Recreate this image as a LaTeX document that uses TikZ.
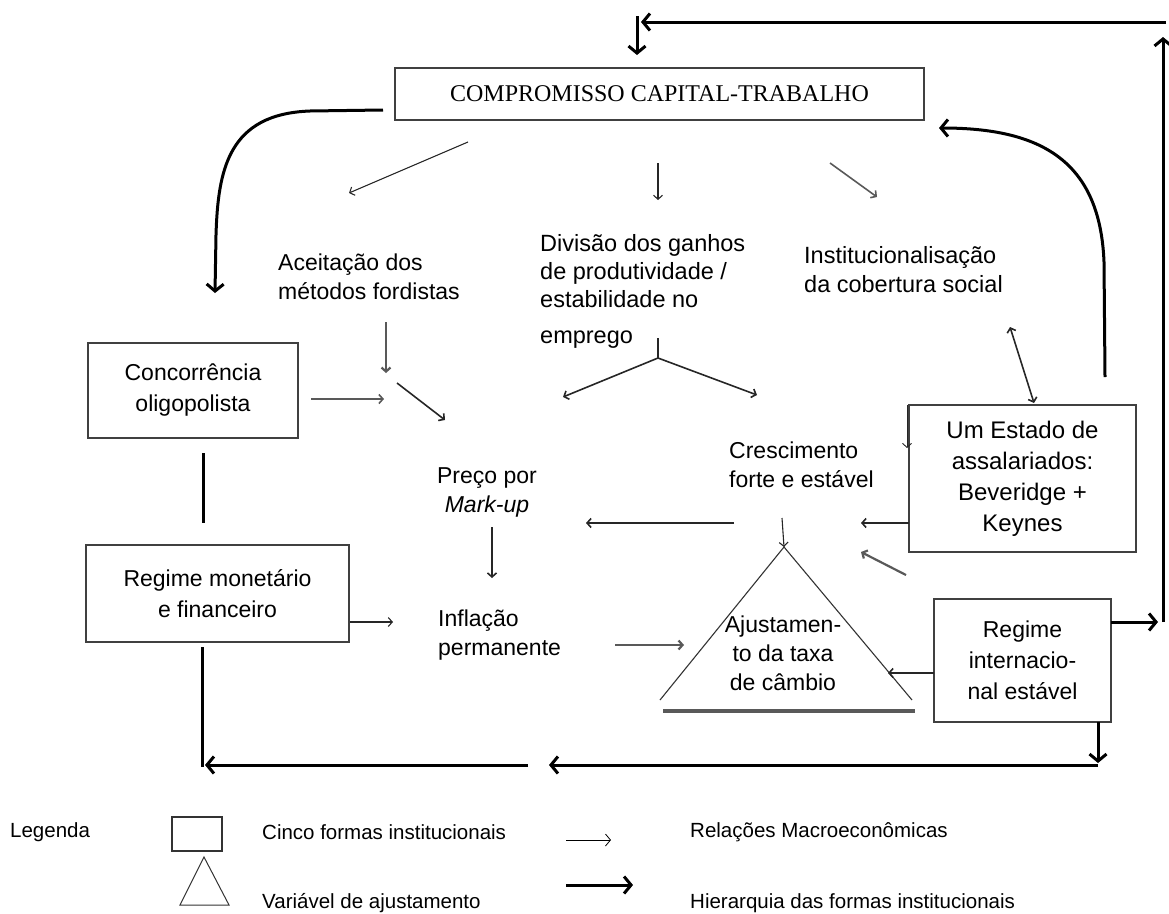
\documentclass[tikz,border=0pt]{standalone}
\usepackage{fontspec}
\setmainfont{Liberation Sans}
\newfontfamily\boxserif{Liberation Serif}
\usetikzlibrary{arrows.meta}

\tikzset{
  txt/.style={inner sep=0pt, align=left, font=\fontsize{23}{29}\selectfont},
  ctxt/.style={txt, align=center},
  inst/.style={draw=black!75, line width=1.4pt, inner sep=0pt, align=center,
               font=\fontsize{23}{31}\selectfont},
  rel/.style={line width=1.1pt, draw=black!85, -{Straight Barb[length=4pt,width=9pt]}},
  relg/.style={rel, line width=2.2pt, draw=black!65},
  hier/.style={line width=3pt, -{Straight Barb[length=7pt,width=17pt]}},
  hline/.style={line width=3pt},
  leg/.style={inner sep=0pt, anchor=west, font=\fontsize{20.5}{24}\selectfont}
}

\begin{document}
\begin{tikzpicture}[x=1pt,y=-1pt]
\useasboundingbox (0,0) rectangle (1169,913);

% ---------- institutional forms (boxes) ----------
\node[inst, minimum width=529pt, minimum height=52pt, font=\boxserif\fontsize{24}{28}\selectfont]
  (cct) at (659.5,94) {COMPROMISSO CAPITAL-TRABALHO};
\node[inst, minimum width=210pt, minimum height=95pt] (conc) at (193,390.5) {Concorrência\\oligopolista};
\node[inst, minimum width=263pt, minimum height=97pt] (rmf) at (217.5,593.5) {Regime monetário\\e financeiro};
\node[inst, minimum width=227pt, minimum height=147pt, font=\fontsize{24}{31}\selectfont]
  (est) at (1022.5,478.5) {Um Estado de\\assalariados:\\Beveridge +\\Keynes};
\node[inst, minimum width=177pt, minimum height=123pt, font=\fontsize{23}{31}\selectfont]
  (rint) at (1022.5,660.5) {Regime\\internacio-\\nal estável};

% ---------- macroeconomic relations (texts) ----------
\node[txt, anchor=west] (acei) at (278,277) {Aceitação dos\\métodos fordistas};
\node[txt, anchor=north west, font=\fontsize{23.5}{28}\selectfont] (div) at (540,234)
  {Divisão dos ganhos\\de produtividade /\\estabilidade no\\[8pt]emprego};
\node[txt, anchor=west, font=\fontsize{23.5}{29}\selectfont] (instit) at (804,270)
  {Institucionalisação\\da cobertura social};
\node[ctxt] (preco) at (487,492) {Preço por\\\textit{Mark-up}};
\node[txt, anchor=west] (cresc) at (729,465) {Crescimento\\forte e estável};
\node[txt, anchor=west] (infl) at (438,635) {Inflação\\permanente};

% ---------- adjustment variable (triangle) ----------
\coordinate (apex) at (784,547);
\coordinate (tl) at (660,700);
\coordinate (tr) at (912,700);
\draw[line width=1.1pt, draw=black!80] (tl) -- (apex) -- (tr);
\coordinate (b1) at (663,711);
\coordinate (b2) at (915,711);
\draw[line width=3.5pt, draw=black!65] (b1) -- (b2);
\node[ctxt] (ajust) at (783,653) {Ajustamen-\\to da taxa\\de câmbio};

% ---------- hierarchy of institutional forms ----------
\coordinate (re) at (1111,622);
\coordinate (h0) at (1163,622);
\coordinate (h1) at (1163,37);
\coordinate (h2) at (1166,22);
\coordinate (h3) at (641,22);
\coordinate (h4) at (637,16);
\coordinate (h5) at (637,55);
\draw[hier] (re) -- (1158,622);
\draw[hier] (h0) -- (h1);
\draw[hier] (h2) -- (h3);
\draw[hier] (h4) -- (h5);

% from the welfare state back to the capital-labour compromise
\coordinate (c0) at (1105,377);
\coordinate (c1) at (939,128);
\draw[hier] (c0) -- (1104,262) .. controls (1100,160) and (1040,128) .. (c1);

% from the compromise down to competition
\coordinate (l0) at (383,110);
\coordinate (l1) at (215,293);
\draw[hier] (l0) -- (310,111) .. controls (228,114) and (218,170) .. (216,235) -- (l1);

% left column link and bottom return
\draw[hline] (203,453) -- (203,523);
\coordinate (bl) at (202,767);
\draw[hline] (202,647) -- (bl);
\coordinate (r0) at (1098,722);
\coordinate (r1) at (1098,765);
\draw[hier] (r0) -- (1098,763);
\coordinate (m1) at (549,765);
\coordinate (m2) at (528,765);
\coordinate (m3) at (205,765);
\draw[hier] (r1) -- (m1);
\draw[hier] (m2) -- (m3);

% ---------- macroeconomic relations (arrows) ----------
\draw[rel] (468,142) -- (349,193);
\draw[rel] (658,163) -- (658,200);
\draw[relg, line width=1.6pt] (830,163) -- (877,197);
\draw[rel, {Straight Barb[length=4pt,width=9pt]}-{Straight Barb[length=4pt,width=9pt]}, line width=1.6pt]
  (1010,327) -- (1034,403);

\draw[relg] (386,322) -- (386,373);
\draw[relg, line width=1.6pt] (311,399) -- (384,399);
\draw[rel, line width=1.6pt] (397,383) -- (445,420);

\coordinate (vy) at (658,358);
\draw[rel, -] (658,338) -- (vy);
\draw[rel, line width=1.6pt] (vy) -- (563,397);
\draw[rel, line width=1.6pt] (vy) -- (757,395);

\draw[rel, line width=1.6pt] (734,523) -- (586,523);
\draw[rel, line width=1.6pt] (492,527) -- (492,578);
\draw[rel] (350,622) -- (393,622);
\draw[relg] (615,645) -- (684,645);

\draw[rel, line width=1.6pt] (909,523) -- (861,523);
\draw[rel, line width=0.9pt] (907,405) -- (907,448);
\draw[relg] (906,575) -- (861,552);
\draw[rel] (782,518) -- (apex);
\draw[rel, line width=1.6pt] (934,673) -- (888,673);

% ---------- legend ----------
\node[leg] (lg) at (10,832) {Legenda};
\draw[line width=1.2pt, draw=black!80] (172,817) rectangle (222,851);
\draw[line width=1pt, draw=black!80] (204,857) -- (180,905) -- (229,905) -- cycle;
\node[leg] (lg1) at (262,832) {Cinco formas institucionais};
\node[leg] (lg2) at (262,903) {Variável de ajustamento};
\coordinate (la0) at (566,840);
\coordinate (la1) at (611,840);
\draw[line width=0.8pt, -{Straight Barb[length=5pt,width=12pt]}] (la0) -- (la1);
\coordinate (lb0) at (566,885);
\coordinate (lb1) at (633,885);
\draw[hier] (lb0) -- (lb1);
\node[leg] (lg3) at (690,832) {Relações Macroeconômicas};
\node[leg] (lg4) at (690,903) {Hierarquia das formas institucionais};
\end{tikzpicture}
\end{document}
